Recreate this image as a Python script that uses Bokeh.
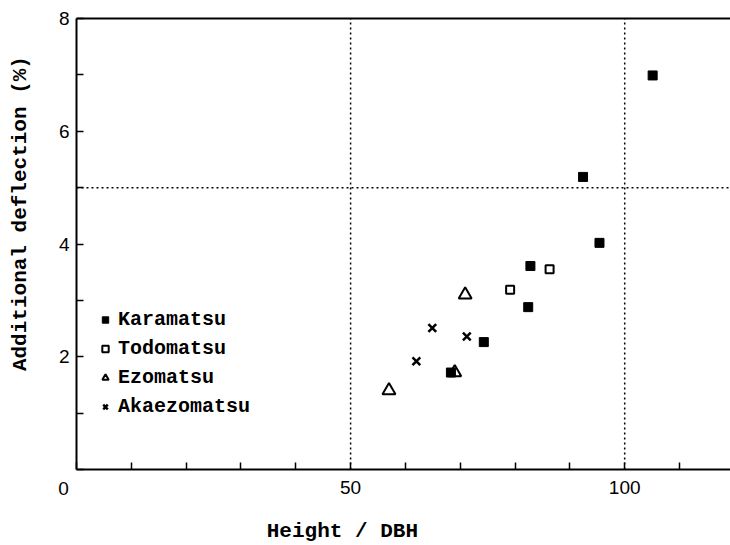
import math
from bokeh.plotting import figure
from bokeh.models import FixedTicker, LinearAxis, Legend, LegendItem, Label
from bokeh.embed import file_html
from bokeh.resources import INLINE

# ---- data ----
kara_x = [68.3, 74.3, 82.4, 82.8, 92.4, 95.4, 105.1]
kara_y = [1.72, 2.26, 2.88, 3.61, 5.19, 4.02, 6.99]
todo_x = [79.1, 86.3]
todo_y = [3.19, 3.55]
ezo_x = [57.0, 69.0, 70.9]
ezo_y = [1.40, 1.72, 3.10]
aka_x = [62.0, 64.9, 71.2]
aka_y = [1.92, 2.51, 2.36]

x_lo, x_hi = 0, 119.3
y_lo, y_hi = 0, 8
x_ticks = [0, 10, 20, 30, 40, 50, 60, 70, 80, 90, 100, 110]
x_tick_labels = {50: "50", 100: "100"}
y_ticks = [0, 1, 2, 3, 4, 5, 6, 7, 8]
y_tick_labels = {2: "2", 4: "4", 6: "6", 8: "8"}
origin_label = "0"
ref_x = [50, 100]
ref_y = [5]

x_title = "Height / DBH"
y_title = "Additional deflection (%)"
names = ["Karamatsu", "Todomatsu", "Ezomatsu", "Akaezomatsu"]

MONO = "Liberation Mono"
SANS = "Liberation Sans"

# frame fills the page; axes are pinned at the data origin
W, H = 730, 545
L, T, B = 76, 18, 76
sx = (W - L) / (x_hi - x_lo)
sy = (H - T - B) / (y_hi - y_lo)
p = figure(width=W, height=H,
           x_range=(x_lo - L / sx, x_hi), y_range=(y_lo - B / sy, y_hi + T / sy),
           x_axis_location=None, y_axis_location=None,
           output_backend="svg", toolbar_location=None, min_border=0,
           background_fill_color="white", border_fill_color="white")
p.outline_line_color = None
p.grid.visible = False


def style(ax, ticks, labels):
    ax.ticker = FixedTicker(ticks=ticks)
    ax.major_label_overrides = {t: labels.get(t, "") for t in ticks}
    ax.major_tick_in = 7
    ax.major_tick_out = 0
    ax.minor_tick_line_color = None
    ax.axis_line_width = 2
    ax.major_tick_line_width = 1.5
    ax.major_label_text_font = SANS
    ax.major_label_text_font_size = "19px"
    ax.major_label_text_color = "black"


xax = LinearAxis(fixed_location=y_lo, bounds=(x_lo, x_hi), major_label_standoff=11)
style(xax, x_ticks, x_tick_labels)
p.add_layout(xax, "below")
yax = LinearAxis(fixed_location=x_lo, bounds=(y_lo, y_hi), major_label_standoff=7)
style(yax, y_ticks, y_tick_labels)
p.add_layout(yax, "left")
top = LinearAxis(fixed_location=y_hi, bounds=(x_lo, x_hi), ticker=FixedTicker(ticks=[]),
                 axis_line_width=2, major_tick_in=0, major_tick_out=0,
                 minor_tick_line_color=None, major_label_text_alpha=0)
p.add_layout(top, "above")

p.segment(x0=ref_x, y0=[y_lo] * len(ref_x), x1=ref_x, y1=[y_hi] * len(ref_x),
          line_color="black", line_dash="2 3", line_width=1.5)
p.segment(x0=[x_lo] * len(ref_y), y0=ref_y, x1=[x_hi] * len(ref_y), y1=ref_y,
          line_color="black", line_dash="2 3", line_width=1.5)

r1 = p.scatter(kara_x, kara_y, marker="square", size=9, fill_color="black", line_color="black")
r2 = p.scatter(todo_x, todo_y, marker="square", size=8, fill_color="white", line_color="black", line_width=2)
r3 = p.scatter(ezo_x, ezo_y, marker="triangle", size=13, fill_color=None, line_color="black", line_width=2)
r4 = p.scatter(aka_x, aka_y, marker="x", size=11, line_color="black", line_width=2.5)

legend = Legend(items=[LegendItem(label=n, renderers=[r]) for n, r in zip(names, [r1, r2, r3, r4])],
                location=(97, 127), orientation="vertical",
                glyph_width=16, glyph_height=23, label_height=23, label_standoff=5,
                spacing=6, padding=0, margin=0,
                border_line_color=None, background_fill_alpha=0,
                label_text_font=MONO, label_text_font_style="bold",
                label_text_font_size="20px", label_text_color="black")
p.add_layout(legend, "center")

p.add_layout(Label(x=x_lo, y=y_lo, x_offset=-13, y_offset=-19, text=origin_label,
                   text_font=SANS, text_font_size="19px", text_color="black",
                   text_align="center", text_baseline="middle"))
p.add_layout(Label(x=48.5, y=y_lo, y_offset=-62, text=x_title,
                   text_font=MONO, text_font_style="bold", text_font_size="21px",
                   text_color="black", text_align="center", text_baseline="middle"))
p.add_layout(Label(x=x_lo, y=4.54, x_offset=-56, text=y_title, angle=math.pi / 2,
                   text_font=MONO, text_font_style="bold", text_font_size="21px",
                   text_color="black", text_align="center", text_baseline="middle"))

open("out.html", "w").write(file_html(p, INLINE))
